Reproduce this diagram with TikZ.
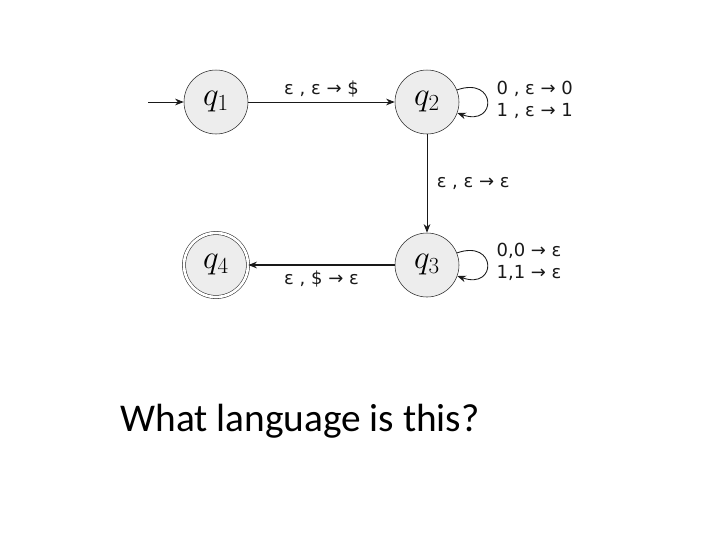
\documentclass[tikz,border=0pt]{standalone}
\usepackage{fontspec}
\newfontfamily\lblfont{DejaVu Sans}
\newfontfamily\capfont{Carlito}
\usetikzlibrary{arrows.meta}
\begin{document}
\begin{tikzpicture}[x=0.75pt,y=-0.75pt,
  state/.style={circle,draw=black!85,fill=black!7,minimum size=48pt,inner sep=0pt,font=\fontsize{24}{26}\selectfont},
  edge/.style={draw=black!90,line width=0.65pt,-{Stealth[length=6.5pt,width=5pt]}},
  lbl/.style={font=\lblfont\fontsize{13.5}{17}\selectfont,inner sep=1pt,text=black!90}]
\useasboundingbox (0,0) rectangle (720,540);
\node[state] (q1) at (216,102) {$q_1$};
\node[state] (q2) at (427,102) {$q_2$};
\node[state] (q3) at (427,265) {$q_3$};
\node[state,double,double distance=2pt] (q4) at (216,265) {$q_4$};
\coordinate (start) at (148,102);
\draw[edge] (start) -- (q1);
\draw[edge] (q1) -- node[lbl,above=2pt] {ε , ε → \$} (q2);
\draw[edge] (q2.22) .. controls +(40,-14) and +(40,14) .. (q2.-20);
\node[lbl,align=left,anchor=west] (l2) at (495,100) {0 , ε → 0\\1 , ε → 1};
\draw[edge] (q2) -- node[lbl,right=6pt] {ε , ε → ε} (q3);
\draw[edge] (q3.22) .. controls +(40,-14) and +(40,14) .. (q3.-20);
\node[lbl,align=left,anchor=west] (l3) at (495,262) {0,0 → ε\\1,1 → ε};
\draw[edge,line width=0.9pt] (q3) -- node[lbl,below=3pt] {ε , \$ → ε} (q4);
\node[font=\capfont\fontsize{29.5}{34}\selectfont] (cap) at (300,421) {What language is this?};
\end{tikzpicture}
\end{document}
